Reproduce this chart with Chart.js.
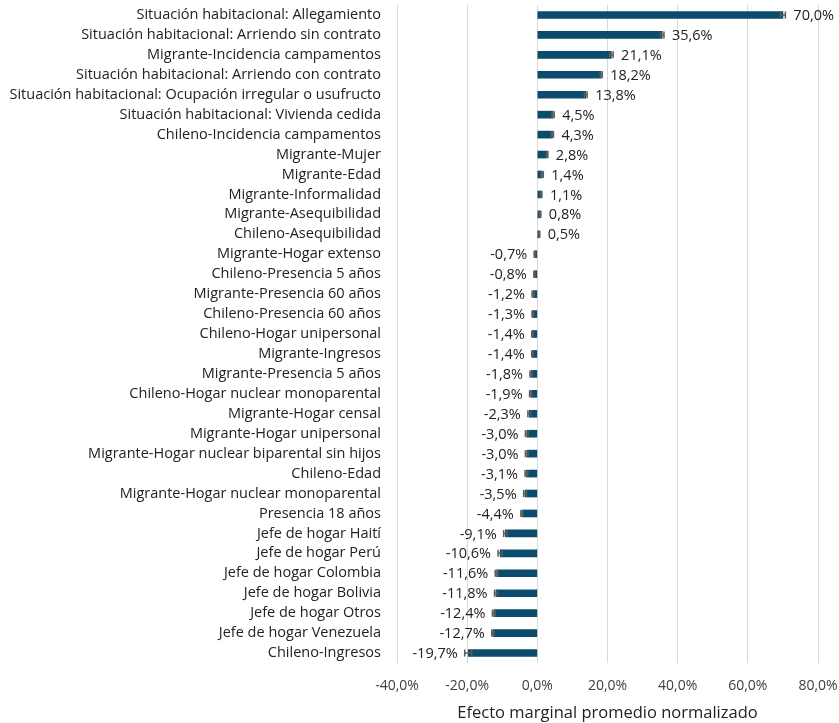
<!DOCTYPE html>
<html>
<head>
<meta charset="utf-8">
<script src="https://cdn.jsdelivr.net/npm/chart.js@4/dist/chart.umd.min.js"></script>
<style>
  html, body { margin: 0; padding: 0; background: #fff; }
  #wrap { width: 839px; height: 723px; }
</style>
</head>
<body>
<div id="wrap"><canvas id="chart"></canvas></div>
<script>
const categories = [
  'Situación habitacional: Allegamiento',
  'Situación habitacional: Arriendo sin contrato',
  'Migrante-Incidencia campamentos',
  'Situación habitacional: Arriendo con contrato',
  'Situación habitacional: Ocupación irregular o usufructo',
  'Situación habitacional: Vivienda cedida',
  'Chileno-Incidencia campamentos',
  'Migrante-Mujer',
  'Migrante-Edad',
  'Migrante-Informalidad',
  'Migrante-Asequibilidad',
  'Chileno-Asequibilidad',
  'Migrante-Hogar extenso',
  'Chileno-Presencia 5 años',
  'Migrante-Presencia 60 años',
  'Chileno-Presencia 60 años',
  'Chileno-Hogar unipersonal',
  'Migrante-Ingresos',
  'Migrante-Presencia 5 años',
  'Chileno-Hogar nuclear monoparental',
  'Migrante-Hogar censal',
  'Migrante-Hogar unipersonal',
  'Migrante-Hogar nuclear biparental sin hijos',
  'Chileno-Edad',
  'Migrante-Hogar nuclear monoparental',
  'Presencia 18 años',
  'Jefe de hogar Haití',
  'Jefe de hogar Perú',
  'Jefe de hogar Colombia',
  'Jefe de hogar Bolivia',
  'Jefe de hogar Otros',
  'Jefe de hogar Venezuela',
  'Chileno-Ingresos'
];

// efecto marginal (%)
const values = [
  70.0, 35.6, 21.1, 18.2, 13.8, 4.5, 4.3, 2.8, 1.4, 1.1, 0.8, 0.5,
  -0.7, -0.8, -1.2, -1.3, -1.4, -1.4, -1.8, -1.9, -2.3, -3.0, -3.0,
  -3.1, -3.5, -4.4, -9.1, -10.6, -11.6, -11.8, -12.4, -12.7, -19.7
];

// error bar half-width (%)
const errors = [
  0.7, 0.5, 0.5, 0.3, 0.4, 0.3, 0.3, 0.2, 0.3, 0.2, 0.2, 0.2,
  0.2, 0.2, 0.3, 0.2, 0.2, 0.2, 0.3, 0.3, 0.4, 0.4, 0.4,
  0.4, 0.4, 0.3, 0.5, 0.6, 0.4, 0.4, 0.4, 0.3, 1.0
];

const xTicks = [-40, -20, 0, 20, 40, 60, 80];

const fmt = v => v.toFixed(1).replace('.', ',') + '%';
const FONT = "'Open Sans', 'Noto Sans', sans-serif";

// error bars + value labels
const extrasPlugin = {
  id: 'extras',
  afterDatasetsDraw(chart) {
    const ctx = chart.ctx;
    const xs = chart.scales.x;
    const meta = chart.getDatasetMeta(0);
    ctx.save();
    meta.data.forEach((bar, i) => {
      const v = values[i], e = errors[i];
      const y = bar.y;
      const x1 = xs.getPixelForValue(v - e);
      const x2 = xs.getPixelForValue(v + e);
      ctx.strokeStyle = '#5a5a5a';
      ctx.lineWidth = 1.5;
      ctx.beginPath();
      ctx.moveTo(x1, y); ctx.lineTo(x2, y);
      ctx.moveTo(x1, y - 3.5); ctx.lineTo(x1, y + 3.5);
      ctx.moveTo(x2, y - 3.5); ctx.lineTo(x2, y + 3.5);
      ctx.stroke();

      ctx.fillStyle = '#222';
      ctx.font = '14.5px ' + FONT;
      ctx.textBaseline = 'middle';
      if (v >= 0) {
        ctx.textAlign = 'left';
        ctx.fillText(fmt(v), x2 + 8, y + 1);
      } else {
        ctx.textAlign = 'right';
        ctx.fillText(fmt(v), Math.min(x1, xs.getPixelForValue(0) - 3) - 7, y + 1);
      }
    });
    ctx.restore();
  }
};

new Chart(document.getElementById('chart'), {
  type: 'bar',
  data: {
    labels: categories,
    datasets: [{
      data: values,
      backgroundColor: '#0b4b6d',
      borderWidth: 0,
      barThickness: 7
    }]
  },
  options: {
    indexAxis: 'y',
    responsive: true,
    maintainAspectRatio: false,
    animation: false,
    layout: { padding: { top: 5, right: 21, left: 0, bottom: 0 } },
    plugins: {
      legend: { display: false },
      tooltip: { enabled: false }
    },
    scales: {
      x: {
        min: -40,
        max: 80,
        afterBuildTicks: scale => { scale.ticks = xTicks.map(v => ({ value: v })); },
        afterFit: scale => {
          scale.height = 60;
          scale.paddingLeft = 0;
          scale.paddingRight = 0;
        },
        grid: { color: '#d9d9d9', lineWidth: 1, drawTicks: false },
        border: { display: false },
        ticks: {
          padding: 15,
          color: '#404040',
          font: { family: FONT, size: 14 },
          callback: v => fmt(v)
        },
        title: {
          display: true,
          text: 'Efecto marginal promedio normalizado',
          color: '#222',
          font: { family: FONT, size: 16.5 },
          padding: { top: 4, bottom: 0 }
        }
      },
      y: {
        afterFit: scale => {
          scale.width = 397;
          scale.paddingTop = 0;
          scale.paddingBottom = 0;
        },
        grid: { display: false, drawTicks: false },
        border: { display: false },
        ticks: {
          padding: 16,
          autoSkip: false,
          color: '#222',
          font: { family: FONT, size: 14.5 }
        }
      }
    }
  },
  plugins: [extrasPlugin]
});
</script>
</body>
</html>
